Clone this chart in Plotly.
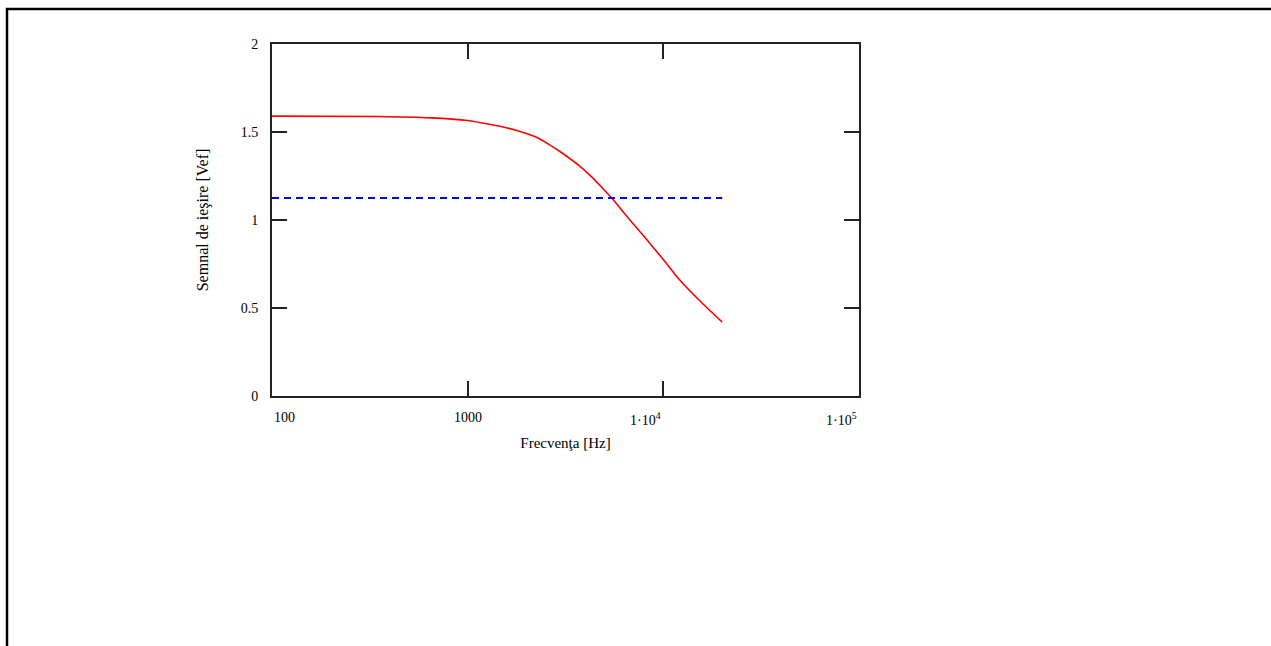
import math
import plotly.graph_objects as go

# Data
freq = [100, 350, 650, 1000, 1200, 1500, 1800, 2250, 2600, 3000, 3750, 4300, 4900, 5450, 6750, 8000, 10000, 12000, 15400, 20000]
vout = [1.59, 1.588, 1.58, 1.565, 1.55, 1.53, 1.507, 1.47, 1.43, 1.385, 1.305, 1.245, 1.18, 1.125, 1.0, 0.905, 0.775, 0.665, 0.54, 0.42]
ref_freq = [100, 20000]
ref_level = [1.125, 1.125]

x_tickvals = [100, 1000, 10000, 100000]
x_ticktext = ["100", "1000", "1·10<sup>4</sup>", "1·10<sup>5</sup>"]
x_anchor = ["left", "center", "right", "right"]
y_tickvals = [0, 0.5, 1, 1.5, 2]
y_ticktext = ["0", "0.5", "1", "1.5", "2"]

FONT = "Liberation Serif, Times New Roman, serif"

fig = go.Figure()
fig.add_trace(go.Scatter(x=freq, y=vout, mode="lines", line_shape="spline",
                         line=dict(color="#ff0000", width=1.6, smoothing=0.6), showlegend=False))
fig.add_trace(go.Scatter(x=ref_freq, y=ref_level, mode="lines",
                         line=dict(color="#0000ff", width=2, dash="7px,5px"), showlegend=False))

axis_common = dict(showgrid=False, zeroline=False, showline=True, linecolor="#222222",
                   linewidth=2, mirror="ticks", ticks="inside", ticklen=15, tickwidth=2,
                   tickcolor="#222222")

fig.update_xaxes(type="log", range=[2, 5], tickvals=x_tickvals, showticklabels=False,
                 title=dict(text="Frecvenţa [Hz]", font=dict(family=FONT, size=15, color="#000"),
                            standoff=40),
                 **axis_common)
fig.update_yaxes(range=[0, 2], tickvals=y_tickvals, ticktext=y_ticktext,
                 tickfont=dict(family=FONT, size=14, color="#000"), ticklabelstandoff=9,
                 title=dict(text="Semnal de ieşire [Vef]", font=dict(family=FONT, size=16, color="#000"),
                            standoff=28),
                 **axis_common)

annotations = []
for v, t, a in zip(x_tickvals, x_ticktext, x_anchor):
    annotations.append(dict(x=math.log10(v), y=0, xref="x", yref="paper", text=t,
                            showarrow=False, xanchor=a, yanchor="top", yshift=-12,
                            font=dict(family=FONT, size=14, color="#000")))

fig.update_layout(
    width=1271, height=646,
    margin=dict(l=272, r=412, t=44, b=250, autoexpand=False),
    paper_bgcolor="white", plot_bgcolor="white",
    annotations=annotations,
    shapes=[dict(type="rect", xref="paper", yref="paper",
                 x0=(7 - 272) / 587, x1=3, y0=-3, y1=(396 - 9) / 352,
                 line=dict(color="black", width=2.5), fillcolor="rgba(0,0,0,0)", layer="below")],
)

fig.write_html("out.html", config={"displayModeBar": False},
               post_script="document.body.style.margin='0';")
